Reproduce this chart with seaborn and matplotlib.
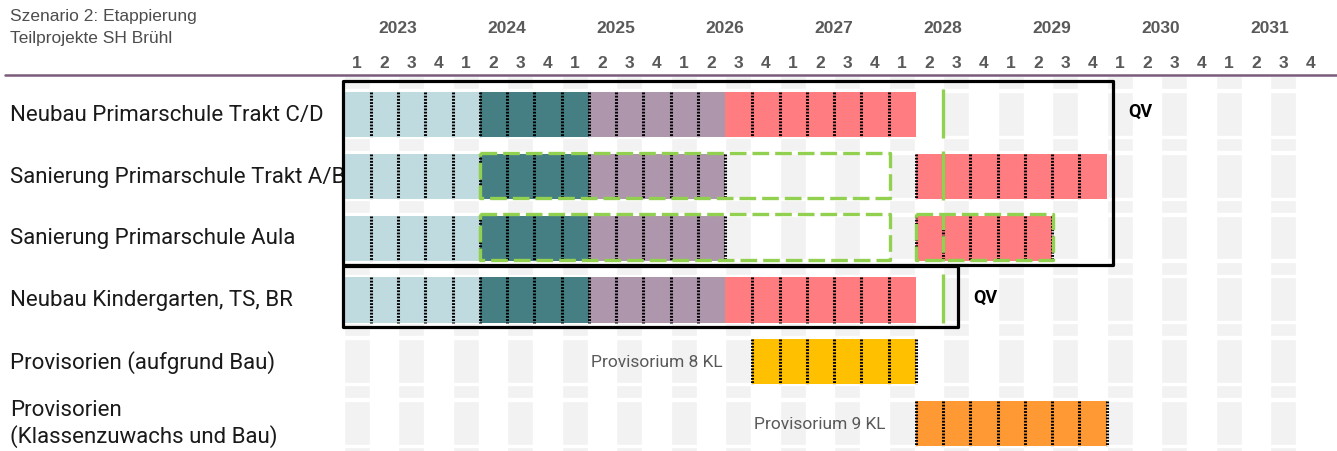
import matplotlib
matplotlib.use('Agg')
import matplotlib.pyplot as plt
import matplotlib.transforms as mtransforms
from matplotlib.patches import Rectangle
import seaborn as sns

# Chart data
title_lines = ['Szenario 2: Etappierung', 'Teilprojekte SH Brühl']
years = [2023, 2024, 2025, 2026, 2027, 2028, 2029, 2030, 2031]
quarters = [1, 2, 3, 4]
tasks = ['Neubau Primarschule Trakt C/D', 'Sanierung Primarschule Trakt A/B',
         'Sanierung Primarschule Aula', 'Neubau Kindergarten, TS, BR',
         'Provisorien (aufgrund Bau)', 'Provisorien\n(Klassenzuwachs und Bau)']

# bar segments (quarter index since 2023 Q1)
seg_row = [0, 0, 0, 0, 1, 1, 1, 1, 2, 2, 2, 2, 3, 3, 3, 3, 4, 5]
seg_start = [0, 5, 9, 14, 0, 5, 9, 21, 0, 5, 9, 21, 0, 5, 9, 14, 15, 21]
seg_len = [5, 4, 5, 7, 5, 4, 5, 7, 5, 4, 5, 5, 5, 4, 5, 7, 6, 7]
seg_phase = ['a', 'b', 'c', 'd', 'a', 'b', 'c', 'd', 'a', 'b', 'c', 'd',
             'a', 'b', 'c', 'd', 'p8', 'p9']
seg_dot_left = [False, True, True, False, False, True, True, True, False, True, True, True,
                False, True, True, False, True, True]
seg_dot_right = [False, False, False, False, False, False, True, False, False, False, True, True,
                 False, False, False, False, True, True]

# dashed green frames (row, start, end)
dash_row = [1, 2, 2]
dash_start = [5, 5, 21]
dash_end = [20.05, 20.05, 26.05]

# QV markers
qv_rows = [0, 1, 2, 3]
qv_pos = [22, 22, 22, 22]
qv_dashed = [False, False, True, False]

# black frames (first row, last row, end quarter) + QV label
frame_first = [0, 3]
frame_last = [2, 3]
frame_end = [28.25, 22.55]
frame_label_row = [0, 3]

# provisorium notes (row, right edge quarter, text)
note_row = [4, 5]
note_end = [13.9, 19.9]
note_text = ['Provisorium 8 KL', 'Provisorium 9 KL']

colors = {'a': '#c0dbdf', 'b': '#467f83', 'c': '#ae96ad', 'd': '#ff7c80',
          'p8': '#ffc000', 'p9': '#ff9933'}
green = '#92d050'
grey_txt = '#595959'
n_q = len(years) * len(quarters)

sns.set_theme(style='white')
plt.rcParams['font.family'] = ['Roboto', 'DejaVu Sans']

fig = plt.figure(figsize=(13.37, 4.52), dpi=100)
ax = fig.add_axes([0, 0, 1, 1])
ax.set_xlim(-343.5 / 27.25, (1337 - 343.5) / 27.25)
ax.set_ylim(359 / 61.8, -93 / 61.8)
ax.axis('off')

BAR_H = 0.73

# grey background cells of the sheet grid
even_cols = [(c, 0.97) for c in range(0, n_q, 2)]
for r in range(-1, len(tasks)):
    ax.broken_barh(even_cols, (r + 0.745, 0.21), facecolors='#f2f2f2', zorder=0.5)
    if r >= 0:
        ax.broken_barh(even_cols, (r, 0.71), facecolors='#f2f2f2', zorder=0.5)

# bars
for r, s, l, p, dl, dr in zip(seg_row, seg_start, seg_len, seg_phase, seg_dot_left, seg_dot_right):
    ax.barh(r, l, left=s, height=BAR_H, align='edge', color=colors[p], linewidth=0, zorder=2)
    xs = list(range(s + 1, s + l))
    if dl:
        xs.append(s)
    if dr:
        xs.append(s + l)
    ax.vlines(xs, r, r + BAR_H, colors='black', linewidth=2.2,
              linestyles=(0, (0.6, 0.45)), zorder=3)

# dashed green frames
for r, s, e in zip(dash_row, dash_start, dash_end):
    ax.add_patch(Rectangle((s, r - 0.02), e - s, BAR_H + 0.01, fill=False,
                           edgecolor=green, linewidth=2.4, linestyle=(0, (5, 1.8)),
                           joinstyle='round', zorder=4))

# QV lines
for r, q, d in zip(qv_rows, qv_pos, qv_dashed):
    ax.vlines(q, r - 0.05, r + BAR_H + 0.01, colors=green, linewidth=2.4,
              linestyles=(0, (5, 1.8)) if d else 'solid', zorder=4)

# black frames
for f, l, e, lr in zip(frame_first, frame_last, frame_end, frame_label_row):
    ax.add_patch(Rectangle((-0.02, f - 0.18), e + 0.02, l - f + 0.98, fill=False,
                           edgecolor='black', linewidth=2.3, joinstyle='round', zorder=5))
    ax.text(e + 0.55, lr + 0.31, 'QV', fontsize=13, fontweight='bold', color='black',
            ha='left', va='center', zorder=5)

# notes
for r, e, t in zip(note_row, note_end, note_text):
    ax.text(e, r + 0.36, t, fontsize=12.5, color=grey_txt, ha='right', va='center', zorder=3)

# header
ax.axhline(-0.283, xmin=5 / 1337, xmax=1, color='#7b5a7a', linewidth=1.8, zorder=3)
for i in range(n_q):
    ax.text(i + 0.5, -0.47, str(quarters[i % 4]), fontsize=12.5, fontweight='bold',
            color=grey_txt, ha='center', va='center', family='Liberation Sans')
for k, y in enumerate(years):
    ax.text(4 * k + 2, -1.04, str(y), fontsize=12.5, fontweight='bold',
            color=grey_txt, ha='center', va='center', family='Liberation Sans')
fig.text(10 / 1337, 1 - 17 / 452, title_lines[0], fontsize=12.5, color='#4d4d4d',
         ha='left', va='center', family='Liberation Sans')
fig.text(10 / 1337, 1 - 38 / 452, title_lines[1], fontsize=12.5, color='#4d4d4d',
         ha='left', va='center', family='Liberation Sans')

# task labels (drawn under the bars so A/B gets clipped like in the sheet)
trans = mtransforms.blended_transform_factory(ax.transAxes, ax.transData)
for r, t in enumerate(tasks):
    ax.text(10 / 1337, r + 0.36, t, transform=trans, fontsize=16, color='#1a1a1a',
            ha='left', va='center', linespacing=1.2, zorder=1)

fig.savefig('out.png', dpi=100)
